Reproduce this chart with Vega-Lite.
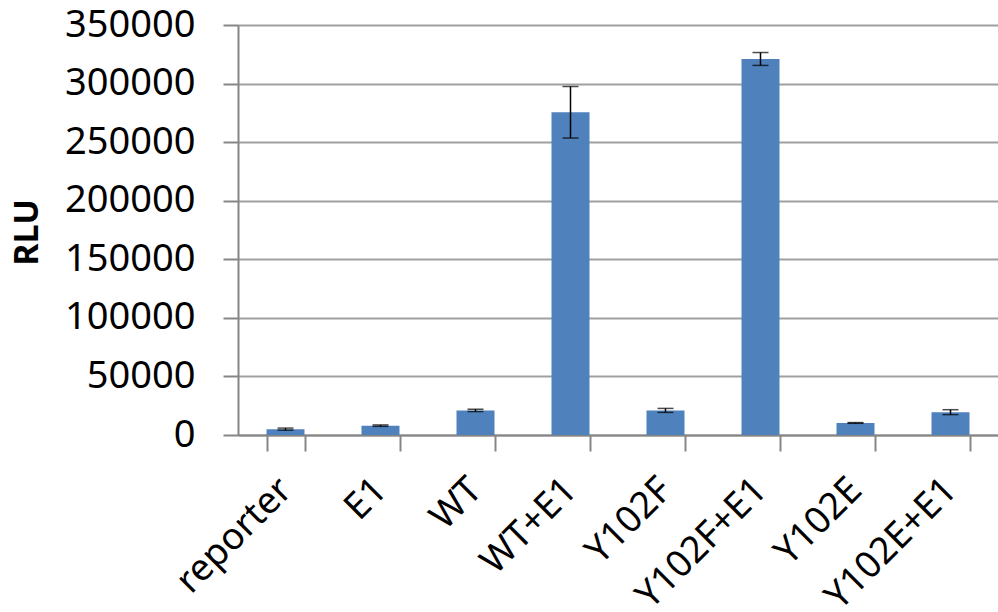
{
  "$schema": "https://vega.github.io/schema/vega-lite/v6.json",
  "width": 760,
  "height": 410,
  "autosize": {"type": "none"},
  "padding": {"left": 238, "top": 25, "right": 0, "bottom": 177},
  "background": "white",
  "config": {"view": {"stroke": null}, "font": "Noto Sans"},
  "data": {"values": [
    {"sample": "reporter", "RLU": 5000, "err": 900},
    {"sample": "E1", "RLU": 8000, "err": 600},
    {"sample": "WT", "RLU": 21000, "err": 1000},
    {"sample": "WT+E1", "RLU": 275500, "err": 22000},
    {"sample": "Y102F", "RLU": 21000, "err": 1700},
    {"sample": "Y102F+E1", "RLU": 321000, "err": 5500},
    {"sample": "Y102E", "RLU": 10300, "err": 300},
    {"sample": "Y102E+E1", "RLU": 19500, "err": 2100}
  ]},
  "encoding": {
    "x": {"field": "sample", "type": "nominal", "sort": null,
      "scale": {"paddingInner": 0.6, "paddingOuter": 0.3},
      "axis": {"title": null, "tickBand": "extent", "labelAngle": -45, "labelAlign": "right", "labelBaseline": "middle",
        "labelFontSize": 37, "labelColor": "#000", "labelPadding": 33, "tickSize": 16, "tickColor": "#868686", "domainColor": "#868686", "domainWidth": 2, "tickWidth": 2, "grid": false}},
    "y": {"field": "RLU", "type": "quantitative",
      "scale": {"domain": [0, 350000], "nice": false},
      "axis": {"title": "RLU", "values": [0, 50000, 100000, 150000, 200000, 250000, 300000, 350000], "format": "d",
        "labelFontSize": 38, "labelColor": "#000", "labelPadding": 28, "tickSize": 15, "tickColor": "#868686", "tickWidth": 2,
        "domainColor": "#868686", "domainWidth": 2, "gridColor": "#A0A0A0", "gridWidth": 2,
        "titleFontSize": 34, "titleFontWeight": "bold", "titleColor": "#000", "titleAngle": -90, "titleX": -211, "titleY": 207, "titleAlign": "center", "titleBaseline": "middle"}}
  },
  "layer": [
    {
      "mark": {"type": "bar", "color": "#4F81BD"}
    },
    {
      "mark": {"type": "errorbar", "ticks": {"size": 16, "thickness": 1.5, "color": "#000"}, "rule": {"color": "#000", "strokeWidth": 1.5}},
      "encoding": {
        "yError": {"field": "err"}
      }
    }
  ]
}
